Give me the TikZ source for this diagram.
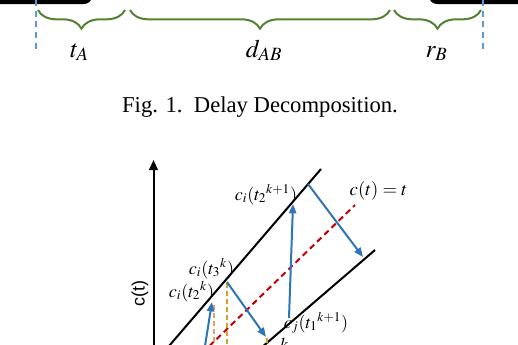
\documentclass[tikz,border=0pt]{standalone}
\usepackage{mathptmx}
\usepackage{fontspec}
\setmainfont{Liberation Serif}
\setsansfont{Liberation Sans}
\usetikzlibrary{arrows.meta,decorations.pathreplacing}
\definecolor{bgreen}{RGB}{84,130,53}
\definecolor{dblue}{RGB}{91,155,213}
\definecolor{ablue}{RGB}{46,117,182}
\definecolor{dred}{RGB}{192,0,0}
\definecolor{goldd}{RGB}{214,160,40}
\definecolor{salm}{RGB}{238,150,110}
\tikzset{
  bracepath/.style={draw=bgreen, line width=1.5pt, decorate, decoration={brace, amplitude=14pt, mirror}},
  topline/.style={line width=3pt, rounded corners=4.5pt},
  vdash/.style={dblue, line width=1.5pt, dash pattern=on 4.5pt off 3.5pt},
  bigfont/.style={font=\fontsize{17}{20}\selectfont, anchor=base, inner sep=0pt},
  labfont/.style={font=\fontsize{19}{22}\selectfont, anchor=base, inner sep=0pt},
  smallfont/.style={font=\fontsize{13.5}{15}\selectfont, anchor=base, inner sep=0pt},
  bluearrow/.style={ablue, line width=1.5pt, -{Triangle[length=7pt,width=5.5pt]}},
  bline/.style={black, line width=1.5pt},
  reddash/.style={dred, line width=1.5pt, dash pattern=on 4.5pt off 3pt},
  golddash/.style={goldd, line width=1.3pt, dash pattern=on 3.5pt off 2.5pt},
  salmdash/.style={salm, line width=1.3pt, dash pattern=on 3.5pt off 2.5pt},
}
\begin{document}
\begin{tikzpicture}[x=0.75pt,y=-0.75pt]
\useasboundingbox (0,0) rectangle (518,344);
\clip (0,0) rectangle (518,344);
% top part
\draw[topline] (-10,2) -- (90,2) -- (90,-15);
\draw[topline] (530,2) -- (431,2) -- (431,-15);
\coordinate (la) at (36,0); \coordinate (lb) at (36,49);
\coordinate (ra) at (483,0); \coordinate (rb) at (483,49);
\draw[vdash] (la) -- (lb);
\draw[vdash] (ra) -- (rb);
\coordinate (b1s) at (38,10); \coordinate (b1e) at (125,10);
\coordinate (b2s) at (130,10); \coordinate (b2e) at (390,10);
\coordinate (b3s) at (394,10); \coordinate (b3e) at (481,10);
\draw[bracepath] (b1s) -- (b1e);
\draw[bracepath] (b2s) -- (b2e);
\draw[bracepath] (b3s) -- (b3e);
\node[labfont] (tA) at (79.5,57) {$t_A$};
\node[labfont] (dAB) at (264,57) {$d_{AB}$};
\node[labfont] (rB) at (436.5,57) {$r_B$};
\node[bigfont] (cap) at (260,112) {Fig. 1.\enspace Delay Decomposition.};
% bottom plot
\coordinate (ax0) at (153.5,350); \coordinate (ax1) at (153.5,160);
\draw[line width=1.5pt, -{Triangle[length=7.5pt,width=6.5pt]}] (ax0) -- (ax1);
\node[font=\sffamily\fontsize{13.5}{15}\selectfont, rotate=90, inner sep=0pt] (ylab) at (140,293) {c(t)};
\coordinate (u1) at (321,169); \coordinate (u0) at (157,360);
\coordinate (l1) at (375,250); \coordinate (l0) at (247,360);
\coordinate (r1) at (355,205); \coordinate (r0) at (195,360);
\draw[bline] (u0) -- (u1);
\draw[bline] (l0) -- (l1);
\draw[reddash] (r0) -- (r1);
\coordinate (g1) at (227,283); \coordinate (g0) at (227,350);
\coordinate (s1) at (214,305); \coordinate (s0) at (214,350);
\coordinate (h1) at (267,338); \coordinate (h0) at (267,350);
\draw[golddash] (g1) -- (g0);
\draw[golddash] (h1) -- (h0);
\draw[salmdash] (s1) -- (s0);
\coordinate (a1s) at (308,184); \coordinate (a1e) at (363,257);
\coordinate (a2s) at (289,318); \coordinate (a2e) at (293,204);
\coordinate (a3s) at (227,282); \coordinate (a3e) at (266,337);
\coordinate (a4s) at (205,346); \coordinate (a4e) at (212,302);
\draw[bluearrow] (a1s) -- (a1e);
\draw[bluearrow] (a2s) -- (a2e);
\draw[bluearrow] (a3s) -- (a3e);
\draw[bluearrow] (a4s) -- (a4e);
\node[smallfont] (lab1) at (266,200) {$c_i(t_2{}^{k+1})$};
\node[smallfont, font=\fontsize{14}{16}\selectfont] (lab2) at (378.5,195) {$c(t) = t$};
\node[smallfont] (lab3) at (211.5,274) {$c_i(t_3{}^{k})$};
\node[smallfont] (lab4) at (191.5,297) {$c_i(t_2{}^{k})$};
\node[smallfont] (lab5) at (316,328) {$c_j(t_1{}^{k+1})$};
\node[smallfont] (lab6) at (284,350) {$k$};
\end{tikzpicture}
\end{document}
